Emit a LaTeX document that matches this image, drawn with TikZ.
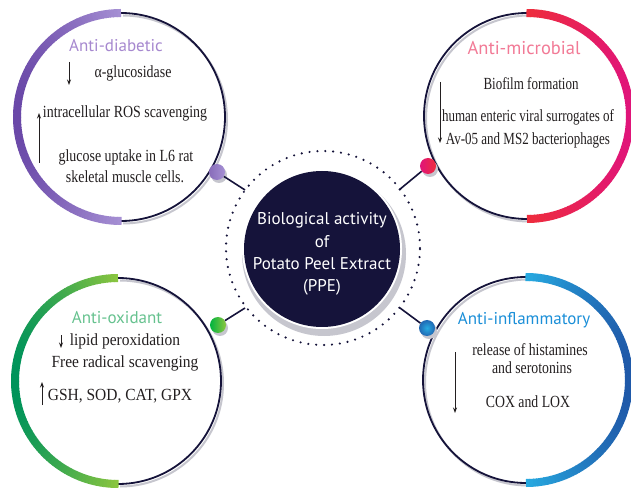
\documentclass[tikz,border=0pt]{standalone}
\usepackage{fontspec}
\setmainfont{Liberation Serif}[FakeStretch=0.82]
\newfontfamily\serifTL{Liberation Serif}[FakeStretch=0.82]
\newfontfamily\serifTR{Liberation Serif}[FakeStretch=0.765]
\newfontfamily\serifBL{Liberation Serif}[FakeStretch=0.91]
\newfontfamily\serifBR{Liberation Serif}[FakeStretch=0.81]
\newfontfamily\headfont{PT Sans}
\usetikzlibrary{arrows.meta}
\definecolor{navy}{HTML}{15133A}
\definecolor{shadowgrey}{HTML}{C6C6CE}
\definecolor{purpL}{HTML}{6A48A8}
\definecolor{purpR}{HTML}{A690D4}
\definecolor{purpT}{HTML}{A688CF}
\definecolor{redL}{HTML}{EE2D3C}
\definecolor{redR}{HTML}{E0147A}
\definecolor{redT}{HTML}{F27A96}
\definecolor{grnL}{HTML}{00935A}
\definecolor{grnR}{HTML}{8CC63F}
\definecolor{grnT}{HTML}{66C28F}
\definecolor{bluL}{HTML}{27AAE1}
\definecolor{bluR}{HTML}{1F58A8}
\definecolor{bluT}{HTML}{1B8FD8}
\definecolor{bodytext}{HTML}{231F20}
% thick band on the left half: center, radius, colour at far left, colour at the ends
\newcommand\bandL[4]{%
  \foreach \a in {90,92,...,268}{%
    \pgfmathtruncatemacro\pp{100*(1+cos(\a+1))}%
    \draw[line width=8pt,draw=#4!\pp!#3] (#1) ++(\a:#2) arc[start angle=\a,end angle=\a+2.3,radius=#2];}}
% thick band on the right half: center, radius, colour at the ends, colour at far right
\newcommand\bandR[4]{%
  \foreach \a in {-90,-88,...,88}{%
    \pgfmathtruncatemacro\pp{100*cos(\a+1)}%
    \draw[line width=8pt,draw=#4!\pp!#3] (#1) ++(\a:#2) arc[start angle=\a,end angle=\a+2.3,radius=#2];}}
\newcommand\thinR[2]{%
  \draw[shadowring] ([shift={(2,-2.5)}]#1) ++(90:#2) arc[start angle=90,end angle=-90,radius=#2];
  \draw[thinring] (#1) ++(90:#2) arc[start angle=90,end angle=-90,radius=#2];}
\newcommand\thinL[2]{%
  \draw[shadowring] ([shift={(2,-2.5)}]#1) ++(90:#2) arc[start angle=90,end angle=270,radius=#2];
  \draw[thinring] (#1) ++(90:#2) arc[start angle=90,end angle=270,radius=#2];}
\begin{document}
\begin{tikzpicture}[x=1pt,y=1pt,
  thinring/.style={draw=navy,line width=1.8pt},
  shadowring/.style={draw=shadowgrey,line width=2pt},
  head/.style={font=\headfont\fontsize{17}{20}\selectfont,anchor=base,inner sep=0pt},
  body/.style={text=bodytext,anchor=base,inner sep=0pt},
  bodyTL/.style={body,font=\serifTL\fontsize{17}{19}\selectfont},
  bodyTR/.style={body,font=\serifTR\fontsize{17}{19}\selectfont},
  bodyBL/.style={body,font=\serifBL\fontsize{17}{19}\selectfont},
  bodyBR/.style={body,font=\serifBR\fontsize{17}{19}\selectfont},
  ctext/.style={font=\headfont\fontsize{17}{20}\selectfont,text=white,anchor=base,inner sep=0pt},
  arr/.style={-{Stealth[length=5.5pt,width=4pt]},line width=0.8pt,draw=bodytext},
  link/.style={draw=navy,line width=1.6pt},
  dot/.style={circle,minimum size=16pt,inner sep=0pt},
  dotshadow/.style={fill=shadowgrey}]
\useasboundingbox (0,0) rectangle (631,490);
\fill[white] (0,0) rectangle (631,490);

% circle centres
\coordinate (cTL) at (121,373);
\coordinate (cTR) at (527,374);
\coordinate (cBL) at (118,109);
\coordinate (cBR) at (526,110);

% outer circles
\thinR{cTL}{104}
\bandL{cTL}{104}{purpL}{purpR}
\thinL{cTR}{103}
\bandR{cTR}{103}{redL}{redR}
\thinR{cBL}{103}
\bandL{cBL}{103}{grnL}{grnR}
\thinL{cBR}{103}
\bandR{cBR}{103}{bluL}{bluR}

% centre
\fill[shadowgrey] (324,236) circle (82);
\fill[white] (322,241) circle (80);
\node[circle,fill=navy,minimum size=156pt,inner sep=0pt] (ctr) at (322,241) {};
\draw[navy,line width=2.4pt,dash pattern=on 0pt off 7.9pt,line cap=round] (323,242) circle (97);

% links
\coordinate (eTL) at (245,300);
\coordinate (eTR) at (399,300);
\coordinate (eBL) at (245,182);
\coordinate (eBR) at (400,182);
\fill[dotshadow] (219,315) circle (8);
\fill[dotshadow] (430,321) circle (8);
\fill[dotshadow] (220,162) circle (8);
\fill[dotshadow] (429,159) circle (8);
\node[dot,shade,left color=purpL!80,right color=purpR] (dTL) at (217,318) {};
\node[dot,shade,left color=redR,right color=redL] (dTR) at (428,324) {};
\node[dot,shade,left color=grnL!70!green,right color=grnR] (dBL) at (218,165) {};
\node[dot,shade,inner color=bluL,outer color=bluR!80!bluL] (dBR) at (427,162) {};
\draw[link] (dTL) -- (eTL);
\draw[link] (dTR) -- (eTR);
\draw[link] (dBL) -- (eBL);
\draw[link] (dBR) -- (eBR);

% centre text
\node[ctext] (c1) at (322,265) {Biological activity};
\node[ctext] (c2) at (322,242) {of};
\node[ctext] (c3) at (322,220) {Potato Peel Extract};
\node[ctext] (c4) at (322,198) {(PPE)};

% Anti-diabetic
\node[head,text=purpT] (h1) at (116,438) {Anti-diabetic};
\node[bodyTL] (t11) at (133,412) {α-glucosidase};
\node[bodyTL] (t12) at (125,372) {intracellular ROS scavenging};
\node[bodyTL] (t13) at (126,328) {glucose uptake in L6 rat};
\node[bodyTL] (t14) at (125,307) {skeletal muscle cells.};
\coordinate (a11) at (69,428); \coordinate (a12) at (69,405);
\coordinate (a13) at (39,327); \coordinate (a14) at (39,377);
\draw[arr] (a11) -- (a12);
\draw[arr] (a13) -- (a14);

% Anti-microbial
\node[head,text=redT,font=\headfont\fontsize{18.5}{21}\selectfont] (h2) at (524,435) {Anti-microbial};
\node[bodyTR] (t21) at (531,400) {Biofilm formation};
\node[bodyTR] (t22) at (528,368) {human enteric viral surrogates of};
\node[bodyTR] (t23) at (528,345) {Av-05 and MS2 bacteriophages};
\coordinate (a21) at (440,408); \coordinate (a22) at (440,347);
\draw[arr] (a21) -- (a22);

% Anti-oxidant
\node[head,text=grnT] (h3) at (117,167) {Anti-oxidant};
\node[bodyBL] (t31) at (125,145) {lipid peroxidation};
\node[bodyBL] (t32) at (125,123) {Free radical scavenging};
\node[bodyBL] (t33) at (120,90) {GSH, SOD, CAT, GPX};
\coordinate (a31) at (61,155); \coordinate (a32) at (61,142);
\coordinate (a33) at (42,85); \coordinate (a34) at (42,108);
\draw[arr] (a31) -- (a32);
\draw[arr] (a33) -- (a34);

% Anti-inflammatory
\node[head,text=bluT] (h4) at (524,165) {Anti-inflammatory};
\node[bodyBR] (t41) at (530,135) {release of histamines};
\node[bodyBR] (t42) at (532,117) {and serotonins};
\node[bodyBR] (t43) at (528,83) {COX and LOX};
\coordinate (a41) at (455,138); \coordinate (a42) at (455,77);
\draw[arr] (a41) -- (a42);
\end{tikzpicture}
\end{document}
